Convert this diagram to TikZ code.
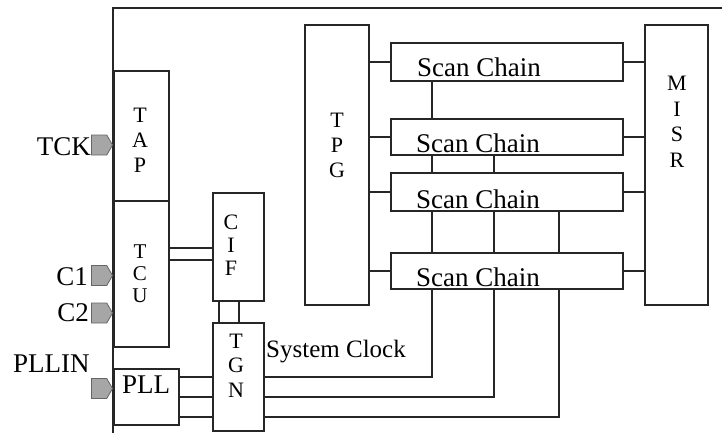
\documentclass[tikz,border=0pt]{standalone}
\usepackage{fontspec}
\setmainfont{Liberation Serif}
\usetikzlibrary{shapes.symbols}
\begin{document}
\begin{tikzpicture}[x=1pt,y=-1pt,
  ln/.style={line width=1.7pt,draw=black!85},
  box/.style={ln,rectangle,inner sep=0pt,anchor=north west},
  vtext/.style={inner sep=0pt,align=center,font=\fontsize{22}{25}\selectfont},
  lbl/.style={inner sep=0pt,font=\fontsize{27}{30}\selectfont},
  scl/.style={inner sep=0pt,anchor=base west,font=\fontsize{27}{30}\selectfont},
  padshape/.style={signal,signal to=east,signal pointer angle=120,fill=black!35,draw=black!60,line width=0.8pt,minimum width=21pt,minimum height=20pt,inner sep=0pt,anchor=east}
]
\useasboundingbox (0,0) rectangle (722,433);
% frame
\coordinate (fbl) at (113,433);
\coordinate (ftl) at (113,8);
\coordinate (ftr) at (722,8);
\draw[ln] (fbl) -- (ftl) -- (ftr);
% blocks
\node[box,minimum width=55pt,minimum height=130pt] (tap) at (113,70) {};
\node[box,minimum width=55pt,minimum height=146pt] (tcu) at (113,200) {};
\node[box,minimum width=65pt,minimum height=56pt] (pll) at (113,368) {};
\node[box,minimum width=51pt,minimum height=108pt] (cif) at (212,192) {};
\node[box,minimum width=51pt,minimum height=108pt] (tgn) at (212,322) {};
\node[box,minimum width=64pt,minimum height=280pt] (tpg) at (304,24) {};
\node[box,minimum width=63pt,minimum height=280pt] (misr) at (644,24) {};
\node[box,minimum width=232pt,minimum height=38pt] (sc1) at (390,42) {};
\node[box,minimum width=232pt,minimum height=36pt] (sc2) at (390,118) {};
\node[box,minimum width=232pt,minimum height=38pt] (sc3) at (390,172) {};
\node[box,minimum width=232pt,minimum height=36pt] (sc4) at (390,252) {};
% block labels
\node[vtext] (tapL) at (140,140.5) {T\\A\\P};
\node[vtext,font=\fontsize{21}{22}\selectfont] (tcuL) at (140,274) {T\\C\\U};
\node[vtext,font=\fontsize{22}{23}\selectfont] (cifL) at (231,245) {C\\I\\F};
\node[vtext,font=\fontsize{22}{24.5}\selectfont] (tgnL) at (236,365.5) {T\\G\\N};
\node[vtext] (tpgL) at (337,145.5) {T\\P\\G};
\node[vtext,font=\fontsize{22}{25.5}\selectfont] (misrL) at (677,122) {M\\I\\S\\R};
\node[lbl,anchor=base west] (pllL) at (122,393) {PLL};
\node[scl] (sc1L) at (417,77) {Scan Chain};
\node[scl] (sc2L) at (416,152) {Scan Chain};
\node[scl] (sc3L) at (416,208) {Scan Chain};
\node[scl] (sc4L) at (416,286) {Scan Chain};
\node[inner sep=0pt,anchor=base west,font=\fontsize{25}{28}\selectfont] (sysclk) at (266,357) {System Clock};
% pads
\node[padshape] (tckP) at (113,145) {};
\node[padshape] (c1P) at (113,275.5) {};
\node[padshape] (c2P) at (113,313) {};
\node[padshape] (pllinP) at (113,388.5) {};
\node[lbl,anchor=base east] (tckL) at (91,155) {TCK};
\node[lbl,anchor=base east] (c1L) at (88,285) {C1};
\node[lbl,anchor=base east] (c2L) at (89,321) {C2};
\node[lbl,anchor=base west] (pllinL) at (13,372) {PLLIN};
% column coordinates
\coordinate (xa) at (432,0);
\coordinate (xb) at (494,0);
\coordinate (xc) at (559,0);
\coordinate (ya) at (0,377);
\coordinate (yb) at (0,397);
\coordinate (yc) at (0,417);
% TCU - CIF
\draw[ln] (tcu.east |- 0,248) -- (cif.west |- 0,248);
\draw[ln] (tcu.east |- 0,260) -- (cif.west |- 0,260);
% CIF - TGN
\draw[ln] (cif.south -| 219,0) -- (tgn.north -| 219,0);
\draw[ln] (cif.south -| 239,0) -- (tgn.north -| 239,0);
% PLL - TGN
\draw[ln] (pll.east |- ya) -- (tgn.west |- ya);
\draw[ln] (pll.east |- yb) -- (tgn.west |- yb);
\draw[ln] (pll.east |- yc) -- (tgn.west |- yc);
% TGN - scan chains
\draw[ln] (tgn.east |- ya) -- (xa |- ya) -- (sc4.south -| xa);
\draw[ln] (tgn.east |- yb) -- (xb |- yb) -- (sc4.south -| xb);
\draw[ln] (tgn.east |- yc) -- (xc |- yc) -- (sc4.south -| xc);
% TPG / MISR to chains
\foreach \s in {sc1,sc2,sc3,sc4}{
  \draw[ln] (tpg.east |- \s.west) -- (\s.west);
  \draw[ln] (\s.east) -- (misr.west |- \s.east);
}
% chain links
\draw[ln] (sc1.south -| xa) -- (sc2.north -| xa);
\draw[ln] (sc2.south -| xa) -- (sc3.north -| xa);
\draw[ln] (sc2.south -| xb) -- (sc3.north -| xb);
\draw[ln] (sc3.south -| xa) -- (sc4.north -| xa);
\draw[ln] (sc3.south -| xb) -- (sc4.north -| xb);
\draw[ln] (sc3.south -| xc) -- (sc4.north -| xc);
\end{tikzpicture}
\end{document}
